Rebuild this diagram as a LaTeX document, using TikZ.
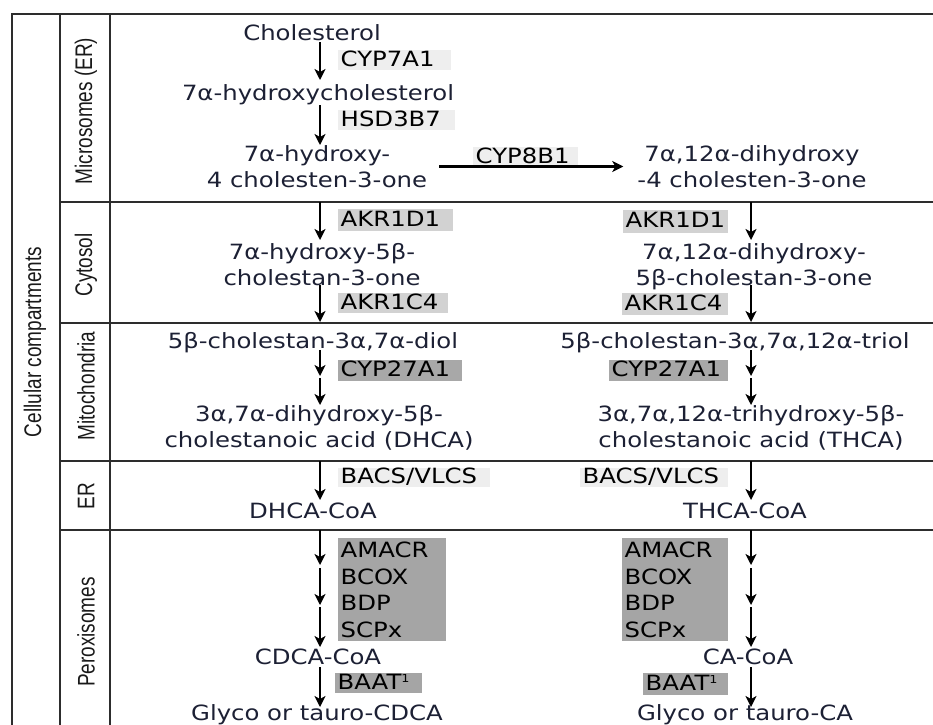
\documentclass[tikz,border=0pt]{standalone}
\usepackage{fontspec}
\usepackage{graphicx}
\usetikzlibrary{arrows.meta,calc}
\newfontfamily\cmpf[FakeStretch=1.16]{DejaVu Sans}
\newfontfamily\labf{Liberation Sans}
\definecolor{framec}{RGB}{45,45,45}
\definecolor{txtc}{RGB}{28,32,52}
\definecolor{boxA}{RGB}{238,238,238}
\definecolor{boxB}{RGB}{210,210,210}
\definecolor{boxC}{RGB}{168,168,168}
\definecolor{boxD}{RGB}{165,165,165}
\newcommand{\supone}{\raisebox{7pt}{\fontsize{11}{11}\selectfont 1}}
\begin{document}
\begin{tikzpicture}[x=1pt,y=-1pt,
  frame/.style={draw=framec,line width=2.4pt},
  cmp/.style={font=\cmpf\fontsize{21}{25.5}\selectfont, text=txtc, inner sep=0pt, align=center},
  enz/.style={font=\cmpf\fontsize{21}{26.5}\selectfont, text=black, anchor=north west, inner xsep=2.5pt, inner ysep=0pt},
  one/.style={text height=15.5pt, text depth=3pt},
  enzA/.style={enz, one, fill=boxA},
  enzB/.style={enz, one, fill=boxB},
  enzC/.style={enz, one, fill=boxC},
  enzD/.style={enz, fill=boxD},
  arr/.style={draw=black, line width=2.2pt, -{Stealth[length=11pt,width=11pt,inset=3pt]}},
  comp/.style={font=\labf\fontsize{20}{22}\selectfont, text=black!90, rotate=90, inner sep=0pt}
]
\useasboundingbox (0,0) rectangle (933,724);
\clip (0,0) rectangle (933,724);

% frame
\draw[frame] (12,730) -- (12,14) -- (940,14);
\draw[frame] (60,14) -- (60,730);
\draw[frame] (110,14) -- (110,730);
\draw[frame] (60,202) -- (940,202);
\draw[frame] (60,323) -- (940,323);
\draw[frame] (60,461) -- (940,461);
\draw[frame] (60,530) -- (940,530);

% compartment labels
\node[comp] (cc) at (35,342) {\scalebox{0.95}[1.2]{Cellular compartments}};
\node[comp] (lmic) at (86,111) {\scalebox{0.95}[1.2]{Microsomes (ER)}};
\node[comp] (lcyt) at (86,265) {\scalebox{0.95}[1.2]{Cytosol}};
\node[comp] (lmit) at (86,386) {\scalebox{0.95}[1.2]{Mitochondria}};
\node[comp] (ler) at (86,496) {\scalebox{0.95}[1.2]{ER}};
\node[comp] (lper) at (86,632) {\scalebox{0.95}[1.2]{Peroxisomes}};

% column coordinates
\coordinate (lx) at (320,0);
\coordinate (rx) at (751,0);
\coordinate (bL1) at (320,202);
\coordinate (bR1) at (751,202);
\coordinate (bL3) at (320,461);
\coordinate (bR3) at (751,461);
\coordinate (bL4) at (320,530);
\coordinate (bR4) at (751,530);
\coordinate (mL) at (320,376);
\coordinate (mR) at (751,376);
\coordinate (pL1) at (320,565);
\coordinate (pL2) at (320,605);
\coordinate (pR1) at (751,565);
\coordinate (pR2) at (751,605);

% Microsomes
\node[cmp, anchor=base] (chol) at (312,40) {Cholesterol};
\node[enzA, minimum height=20pt] (e1) at (338,50) {\makebox[108pt][l]{CYP7A1}};
\node[cmp, anchor=base] (hc) at (318,100) {7α-hydroxycholesterol};
\node[enzA, minimum height=20pt] (e2) at (338,110) {\makebox[112pt][l]{HSD3B7}};
\node[cmp] (h4) at (317,166.5) {7α-hydroxy-\\4 cholesten-3-one};
\node[enzA, minimum height=20pt] (e3) at (473,147) {\makebox[100pt][l]{CYP8B1}};
\node[cmp] (dh4) at (752,166.5) {7α,12α-dihydroxy\\-4 cholesten-3-one};

% Cytosol
\node[enzB, minimum height=22pt] (e4) at (338,209) {\makebox[110pt][l]{AKR1D1}};
\node[cmp] (cytL) at (322,264.5) {7α-hydroxy-5β-\\cholestan-3-one};
\node[enzB, minimum height=20pt] (e5) at (338,293) {\makebox[105pt][l]{AKR1C4}};
\node[enzB, minimum height=23pt] (e6) at (623,210) {\makebox[100pt][l]{AKR1D1}};
\node[cmp] (cytR) at (754,266.5) {7α,12α-dihydroxy-\\5β-cholestan-3-one};
\node[enzB, minimum height=22pt] (e7) at (622,293) {\makebox[101pt][l]{AKR1C4}};

% Mitochondria
\node[cmp, anchor=base] (diol) at (313,348) {5β-cholestan-3α,7α-diol};
\node[enzC, minimum height=21pt] (e8) at (338,360) {\makebox[119pt][l]{CYP27A1}};
\node[cmp] (dhca) at (319,428) {3α,7α-dihydroxy-5β-\\cholestanoic acid (DHCA)};
\node[cmp, anchor=base] (triol) at (735,348) {5β-cholestan-3α,7α,12α-triol};
\node[enzC, minimum height=21pt] (e9) at (609,360) {\makebox[114pt][l]{CYP27A1}};
\node[cmp] (thca) at (751,428) {3α,7α,12α-trihydroxy-5β-\\cholestanoic acid (THCA)};

% ER
\node[enzA, minimum height=19pt] (e10) at (338,468) {\makebox[147pt][l]{BACS/VLCS}};
\node[cmp, anchor=base] (dhcacoa) at (313,518) {DHCA-CoA};
\node[enzA, minimum height=19pt] (e11) at (580,468) {\makebox[143pt][l]{BACS/VLCS}};
\node[cmp, anchor=base] (thcacoa) at (745,518) {THCA-CoA};

% Peroxisomes
\node[enzD, minimum height=103pt] (e12) at (338,538) {\parbox{103pt}{AMACR\\BCOX\\BDP\\SCPx}};
\node[enzD, minimum height=103pt] (e13) at (622,538) {\parbox{101pt}{AMACR\\BCOX\\BDP\\SCPx}};
\node[cmp, anchor=base] (cdcacoa) at (318,664) {CDCA-CoA};
\node[cmp, anchor=base] (cacoa) at (748,664) {CA-CoA};
\node[enzD, one, minimum height=20pt] (e14) at (335,673) {\makebox[82pt][l]{BAAT\supone}};
\node[enzD, one, minimum height=22pt] (e15) at (643,673) {\makebox[80pt][l]{BAAT\supone}};
\node[cmp, anchor=base] (glyL) at (317,720) {Glyco or tauro-CDCA};
\node[cmp, anchor=base] (glyR) at (745,720) {Glyco or tauro-CA};

% arrows, left column
\draw[arr] ($(chol.base -| lx)+(0,2)$) -- ($(hc.base -| lx)+(0,-20)$);
\draw[arr] ($(hc.base -| lx)+(0,5)$) -- ($(h4.center -| lx)+(0,-21.5)$);
\draw[arr] ([xshift=12pt]h4.east) -- ([xshift=-14pt]h4.east -| dh4.west);
\draw[arr] (bL1) -- ($(cytL.center -| lx)+(0,-24.5)$);
\draw[arr] ($(cytL.center -| lx)+(0,20.5)$) -- ($(diol.base -| lx)+(0,-26)$);
\draw[arr] ($(diol.base -| lx)+(0,2)$) -- (mL);
\draw[arr, shorten <=2pt] (mL) -- ($(dhca.center -| lx)+(0,-23)$);
\draw[arr] (bL3) -- ($(dhcacoa.base -| lx)+(0,-18)$);
\draw[arr] (bL4) -- (pL1);
\draw[arr, shorten <=3pt] (pL1) -- (pL2);
\draw[arr, shorten <=2pt] (pL2) -- ($(cdcacoa.base -| lx)+(0,-17)$);
\draw[arr] ($(cdcacoa.base -| lx)+(0,3)$) -- ($(glyL.base -| lx)+(0,-13)$);

% arrows, right column
\draw[arr] (bR1) -- ($(cytR.center -| rx)+(0,-26.5)$);
\draw[arr] ($(cytR.center -| rx)+(0,18.5)$) -- ($(triol.base -| rx)+(0,-26)$);
\draw[arr] ($(triol.base -| rx)+(0,2)$) -- (mR);
\draw[arr, shorten <=2pt] (mR) -- ($(thca.center -| rx)+(0,-23)$);
\draw[arr] (bR3) -- ($(thcacoa.base -| rx)+(0,-18)$);
\draw[arr] (bR4) -- (pR1);
\draw[arr, shorten <=3pt] (pR1) -- (pR2);
\draw[arr, shorten <=2pt] (pR2) -- ($(cacoa.base -| rx)+(0,-17)$);
\draw[arr] ($(cacoa.base -| rx)+(0,3)$) -- ($(glyR.base -| rx)+(0,-13)$);
\end{tikzpicture}
\end{document}
